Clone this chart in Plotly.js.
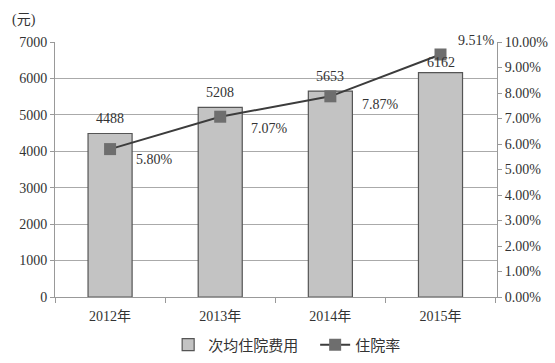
<!DOCTYPE html>
<html>
<head>
<meta charset="utf-8">
<script src="https://cdn.plot.ly/plotly-3.0.1.min.js"></script>
<style>html,body{margin:0;padding:0;background:#fff;}#chart{width:555px;height:363px;}</style>
</head>
<body>
<div id="chart"></div>
<script>
const years = ['2012年', '2013年', '2014年', '2015年'];
const avgCost = [4488, 5208, 5653, 6162];
const hospRate = [0.0580, 0.0707, 0.0787, 0.0951];
const rateLabels = ['5.80%', '7.07%', '7.87%', '9.51%'];
const barName = '次均住院费用';
const lineName = '住院率';
const leftUnit = '(元)';

const FONT = 'Liberation Serif, Times New Roman, Noto Sans CJK SC, serif';
const barShift = [15, 15, 15, 10];
const rateShift = [[44, -10], [49, -12], [50, -8], [36, 14]];

const traces = [
  {
    type: 'bar', x: years, y: avgCost, name: barName,
    marker: {color: '#c3c3c3', line: {color: '#555', width: 1.2}},
    hoverinfo: 'none'
  },
  {
    type: 'scatter', mode: 'lines+markers', x: years, y: hospRate, name: lineName, yaxis: 'y2',
    line: {color: '#3c3c3c', width: 2},
    marker: {symbol: 'square', size: 12, color: '#6e6e6e'},
    hoverinfo: 'none'
  }
];

const annotations = [];
years.forEach((c, i) => {
  annotations.push({x: c, y: avgCost[i], xref: 'x', yref: 'y', text: String(avgCost[i]),
    showarrow: false, yanchor: 'middle', yshift: barShift[i], font: {family: FONT, size: 14, color: '#333'}});
  annotations.push({x: c, y: hospRate[i], xref: 'x', yref: 'y2', text: rateLabels[i],
    showarrow: false, yanchor: 'middle', xshift: rateShift[i][0], yshift: rateShift[i][1], font: {family: FONT, size: 14, color: '#333'}});
});
annotations.push({x: -0.102, y: 1.086, xref: 'paper', yref: 'paper', xanchor: 'left', yanchor: 'middle',
  text: leftUnit, showarrow: false, font: {family: FONT, size: 14, color: '#333'}});

const layout = {
  width: 555, height: 363,
  margin: {l: 55, r: 58, t: 42, b: 66, autoexpand: false},
  paper_bgcolor: '#fff', plot_bgcolor: '#fff',
  font: {family: FONT, size: 14, color: '#333'},
  bargap: 0.6,
  showlegend: true,
  legend: {orientation: 'h', x: 0.256, xanchor: 'left', y: -0.188, yanchor: 'middle',
    font: {family: FONT, size: 15, color: '#333'}, traceorder: 'normal', itemwidth: 30,
    entrywidth: 102, entrywidthmode: 'pixels'},
  xaxis: {type: 'category', tickson: 'boundaries', ticks: 'outside', ticklen: 5, tickcolor: '#999',
    showline: true, linecolor: '#999', linewidth: 1, showgrid: false, zeroline: false,
    ticklabelstandoff: 6,
    tickfont: {family: FONT, size: 14, color: '#333'}},
  yaxis: {range: [0, 7000], dtick: 1000, ticks: 'outside', ticklen: 4, tickcolor: '#999',
    showline: true, linecolor: '#999', gridcolor: '#aaa', gridwidth: 1, zeroline: false,
    tickfont: {family: FONT, size: 14, color: '#333'}},
  yaxis2: {range: [0, 0.1], dtick: 0.01, tickformat: '.2%', overlaying: 'y', side: 'right',
    ticks: 'outside', ticklen: 4, tickcolor: '#999', showline: true, linecolor: '#999',
    showgrid: false, zeroline: false, tickfont: {family: FONT, size: 14, color: '#333'}},
  annotations: annotations
};

Plotly.newPlot('chart', traces, layout, {staticPlot: true, displayModeBar: false});
</script>
</body>
</html>
